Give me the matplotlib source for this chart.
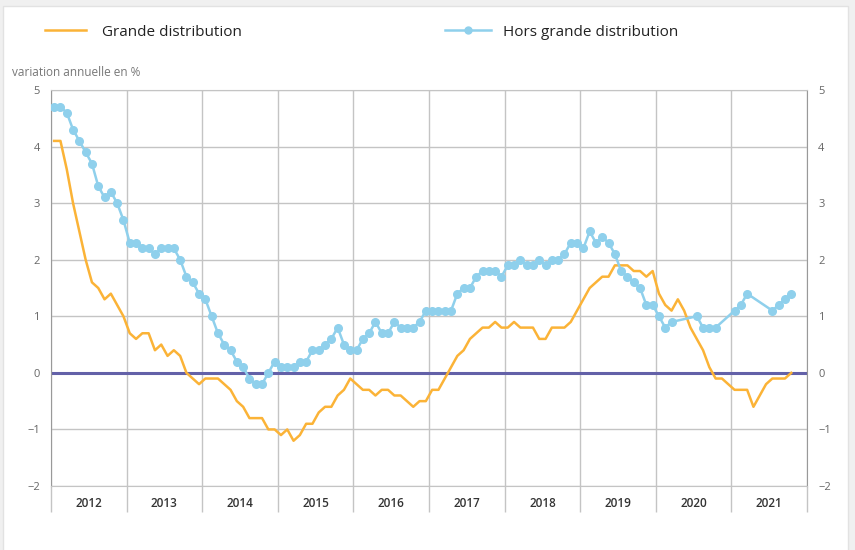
import matplotlib
matplotlib.use("Agg")
import matplotlib.pyplot as plt
import matplotlib.patches as patches
from matplotlib.lines import Line2D
import numpy as np

plt.rcParams['font.family'] = ['Open Sans', 'DejaVu Sans']

# monthly data, Jan 2012 -> Oct 2021
years = ["2012", "2013", "2014", "2015", "2016", "2017", "2018", "2019", "2020", "2021"]

grande = [4.1, 4.1, 3.6, 3.0, 2.5, 2.0, 1.6, 1.5, 1.3, 1.4, 1.2, 1.0,
          0.7, 0.6, 0.7, 0.7, 0.4, 0.5, 0.3, 0.4, 0.3, 0.0, -0.1, -0.2,
          -0.1, -0.1, -0.1, -0.2, -0.3, -0.5, -0.6, -0.8, -0.8, -0.8, -1.0, -1.0,
          -1.1, -1.0, -1.2, -1.1, -0.9, -0.9, -0.7, -0.6, -0.6, -0.4, -0.3, -0.1,
          -0.2, -0.3, -0.3, -0.4, -0.3, -0.3, -0.4, -0.4, -0.5, -0.6, -0.5, -0.5,
          -0.3, -0.3, -0.1, 0.1, 0.3, 0.4, 0.6, 0.7, 0.8, 0.8, 0.9, 0.8,
          0.8, 0.9, 0.8, 0.8, 0.8, 0.6, 0.6, 0.8, 0.8, 0.8, 0.9, 1.1,
          1.3, 1.5, 1.6, 1.7, 1.7, 1.9, 1.9, 1.9, 1.8, 1.8, 1.7, 1.8,
          1.4, 1.2, 1.1, 1.3, 1.1, 0.8, 0.6, 0.4, 0.1, -0.1, -0.1, -0.2,
          -0.3, -0.3, -0.3, -0.6, -0.4, -0.2, -0.1, -0.1, -0.1, 0.0]

hors = [4.7, 4.7, 4.6, 4.3, 4.1, 3.9, 3.7, 3.3, 3.1, 3.2, 3.0, 2.7,
        2.3, 2.3, 2.2, 2.2, 2.1, 2.2, 2.2, 2.2, 2.0, 1.7, 1.6, 1.4,
        1.3, 1.0, 0.7, 0.5, 0.4, 0.2, 0.1, -0.1, -0.2, -0.2, 0.0, 0.2,
        0.1, 0.1, 0.1, 0.2, 0.2, 0.4, 0.4, 0.5, 0.6, 0.8, 0.5, 0.4,
        0.4, 0.6, 0.7, 0.9, 0.7, 0.7, 0.9, 0.8, 0.8, 0.8, 0.9, 1.1,
        1.1, 1.1, 1.1, 1.1, 1.4, 1.5, 1.5, 1.7, 1.8, 1.8, 1.8, 1.7,
        1.9, 1.9, 2.0, 1.9, 1.9, 2.0, 1.9, 2.0, 2.0, 2.1, 2.3, 2.3,
        2.2, 2.5, 2.3, 2.4, 2.3, 2.1, 1.8, 1.7, 1.6, 1.5, 1.2, 1.2,
        1.0, 0.8, 0.9, None, None, None, 1.0, 0.8, 0.8, 0.8, None, None,
        1.1, 1.2, 1.4, None, None, None, 1.1, 1.2, 1.3, 1.4]

orange = "#FBB337"
blue = "#8FD0EC"
grid_col = "#c4c4c4"

fig = plt.figure(figsize=(8.55, 5.5), dpi=100)
fig.patch.set_facecolor("#f0f0f0")
card = patches.Rectangle((3 / 855, -0.01), 845 / 855, 1 - 6 / 550 + 0.01, transform=fig.transFigure,
                         facecolor="white", edgecolor="#e2e2e2", lw=1, zorder=-10)
fig.patches.append(card)

ax = fig.add_axes([51 / 855, 1 - 486 / 550, 756 / 855, 396 / 550])
ax.set_facecolor("white")

x = np.arange(len(grande)) + 0.5
ax.plot(x, grande, color=orange, lw=1.8, zorder=3)

hx = np.array([x[i] for i in range(len(hors)) if hors[i] is not None])
hy = np.array([v for v in hors if v is not None])
ax.plot(hx, hy, color=blue, lw=1.8, marker="o", markersize=5.5, zorder=4)

ax.axhline(0, color="#6361A8", lw=2.2, zorder=2)

ax.set_xlim(0, 12 * len(years))
ax.set_ylim(-2, 5)
ax.set_yticks(range(-2, 6))
ax.grid(axis="y", color=grid_col, lw=1, zorder=0)
ax.set_xticks(np.arange(0, 12 * len(years) + 1, 12))
ax.set_xticklabels([])
ax.set_xticks(np.arange(6, 12 * len(years), 12), minor=True)
ax.set_xticklabels(years, minor=True)
ax.grid(axis="x", which="major", color=grid_col, lw=1, zorder=0)
ax.tick_params(axis="x", which="major", length=19, color=grid_col, width=1)
ax.tick_params(axis="x", which="minor", length=0, pad=8, labelsize=8.5, labelcolor="#333333")
for lab in ax.get_xticklabels(minor=True):
    lab.set_fontweight("semibold")
ax.tick_params(axis="y", length=0, pad=8, labelsize=8, labelcolor="#666666",
               right=True, labelright=True)

for side in ["left", "right"]:
    ax.spines[side].set_color("#999999")
ax.spines["top"].set_color(grid_col)
ax.spines["bottom"].set_color(grid_col)

fig.text(12 / 855, 1 - 72 / 550, "variation annuelle en %", fontsize=8.5, color="#777777", va="center")

h1 = Line2D([], [], color=orange, lw=1.8)
h2 = Line2D([], [], color=blue, lw=1.8, marker="o", markersize=5)
leg1 = fig.legend(handles=[h1], labels=["Grande distribution"], loc="center left",
                  bbox_to_anchor=(45 / 855, 1 - 32 / 550), frameon=False, fontsize=11,
                  borderpad=0, borderaxespad=0, handlelength=2.7, handletextpad=1.0)
leg2 = fig.legend(handles=[h2], labels=["Hors grande distribution"], loc="center left",
                  bbox_to_anchor=(445 / 855, 1 - 32 / 550), frameon=False, fontsize=11,
                  borderpad=0, borderaxespad=0, handlelength=3.0, handletextpad=0.8)
for leg in (leg1, leg2):
    for t in leg.get_texts():
        t.set_color("#222222")

fig.savefig("out.png", dpi=100, facecolor=fig.get_facecolor())
